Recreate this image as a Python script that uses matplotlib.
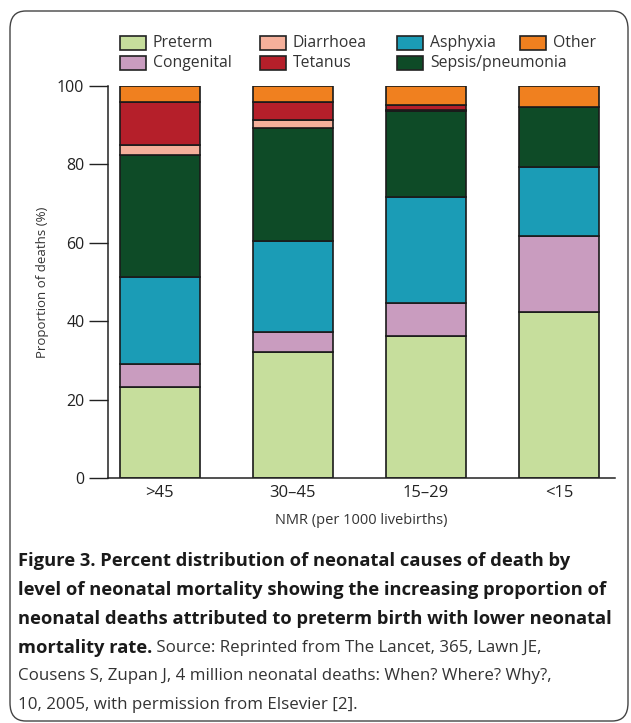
import matplotlib
matplotlib.use("Agg")
import matplotlib.pyplot as plt
from matplotlib.patches import Rectangle, FancyBboxPatch
import numpy as np

categories = [">45", "30–45", "15–29", "<15"]
causes = ["Preterm", "Congenital", "Asphyxia", "Sepsis/pneumonia", "Diarrhoea", "Tetanus", "Other"]
preterm = [23.3, 32.1, 36.1, 42.3]
congenital = [5.8, 5.2, 8.6, 19.4]
asphyxia = [22.3, 23.2, 27.1, 17.6]
sepsis = [31.0, 28.9, 21.8, 15.4]
diarrhoea = [2.5, 1.8, 0.3, 0.0]
tetanus = [11.1, 4.6, 1.3, 0.0]
other = [4.0, 4.2, 4.8, 5.3]
series = [preterm, congenital, asphyxia, sepsis, diarrhoea, tetanus, other]
colors = {"Preterm": "#c6de9c", "Congenital": "#c99cbf", "Asphyxia": "#1b9cb6",
          "Sepsis/pneumonia": "#0e4b27", "Diarrhoea": "#f5b09b", "Tetanus": "#b51f2a",
          "Other": "#f0801f"}

plt.rcParams['font.family'] = ['Open Sans', 'DejaVu Sans']

fig = plt.figure(figsize=(6.31, 7.23), dpi=100)
W, H = 631, 723

# rounded border
border = FancyBboxPatch((10 / W, 2 / H), 618 / W, 719 / H - 9 / H,
                        boxstyle="round,pad=0,rounding_size=0.025",
                        transform=fig.transFigure, fill=False,
                        edgecolor="#444444", linewidth=1.0)
fig.add_artist(border)

ax = fig.add_axes([108 / W, 1 - 478 / H, (615 - 108) / W, (478 - 86) / H])
x = np.arange(len(categories))
bottom = np.zeros(len(categories))
for name, vals in zip(causes, series):
    v = np.array(vals)
    ax.bar(x, v, width=0.6, bottom=bottom, color=colors[name],
           edgecolor="#1a1a1a", linewidth=1.2)
    bottom += v

ax.set_xlim(-0.39, 3.42)
ax.set_ylim(0, 100)
ax.set_yticks([0, 20, 40, 60, 80, 100])
ax.tick_params(axis='y', length=14, width=1.0, pad=3, labelsize=11.5, colors="#222222")
ax.tick_params(axis='x', length=0, pad=5, labelsize=12, colors="#222222")
ax.set_xticks(x)
ax.set_xticklabels(categories)
for s in ["top", "right"]:
    ax.spines[s].set_visible(False)
for s in ["left", "bottom"]:
    ax.spines[s].set_linewidth(1.1)
    ax.spines[s].set_color("#222222")
ax.set_ylabel("Proportion of deaths (%)", fontsize=9.5, color="#333333", labelpad=6)
ax.set_xlabel("NMR (per 1000 livebirths)", fontsize=10.5, color="#333333", labelpad=9)

# legend (manual layout as in reference)
legend_items = [("Preterm", 120, 43), ("Congenital", 120, 63),
                ("Diarrhoea", 260, 43), ("Tetanus", 260, 63),
                ("Asphyxia", 397, 43), ("Sepsis/pneumonia", 397, 63),
                ("Other", 520, 43)]
for name, px, py in legend_items:
    fig.add_artist(Rectangle((px / W, 1 - (py + 7) / H), 26 / W, 14 / H,
                             transform=fig.transFigure, facecolor=colors[name],
                             edgecolor="#222222", linewidth=1.2))
    fig.text((px + 33) / W, 1 - py / H, name, fontsize=11.3, va="center",
             ha="left", color="#333333")

# caption
BOLD = 13.2
REG = 12.2
cap_lines = ["Figure 3. Percent distribution of neonatal causes of death by",
             "level of neonatal mortality showing the increasing proportion of",
             "neonatal deaths attributed to preterm birth with lower neonatal"]
ys = [561, 590, 619]
for line, yy in zip(cap_lines, ys):
    fig.text(18 / W, 1 - yy / H, line, fontsize=BOLD, fontweight="bold",
             va="center", ha="left", color="#1a1a1a")
t4 = fig.text(18 / W, 1 - 648 / H, "mortality rate.", fontsize=BOLD,
              fontweight="bold", va="center", ha="left", color="#1a1a1a")
plt.annotate(" Source: Reprinted from The Lancet, 365, Lawn JE,",
             xy=(1, 0.5), xycoords=t4, va="center", ha="left",
             fontsize=REG, color="#333333", annotation_clip=False)
fig.text(18 / W, 1 - 676 / H,
         "Cousens S, Zupan J, 4 million neonatal deaths: When? Where? Why?,",
         fontsize=REG, va="center", ha="left", color="#333333")
fig.text(18 / W, 1 - 705 / H, "10, 2005, with permission from Elsevier [2].",
         fontsize=REG, va="center", ha="left", color="#333333")

fig.savefig("out.png", dpi=100)
